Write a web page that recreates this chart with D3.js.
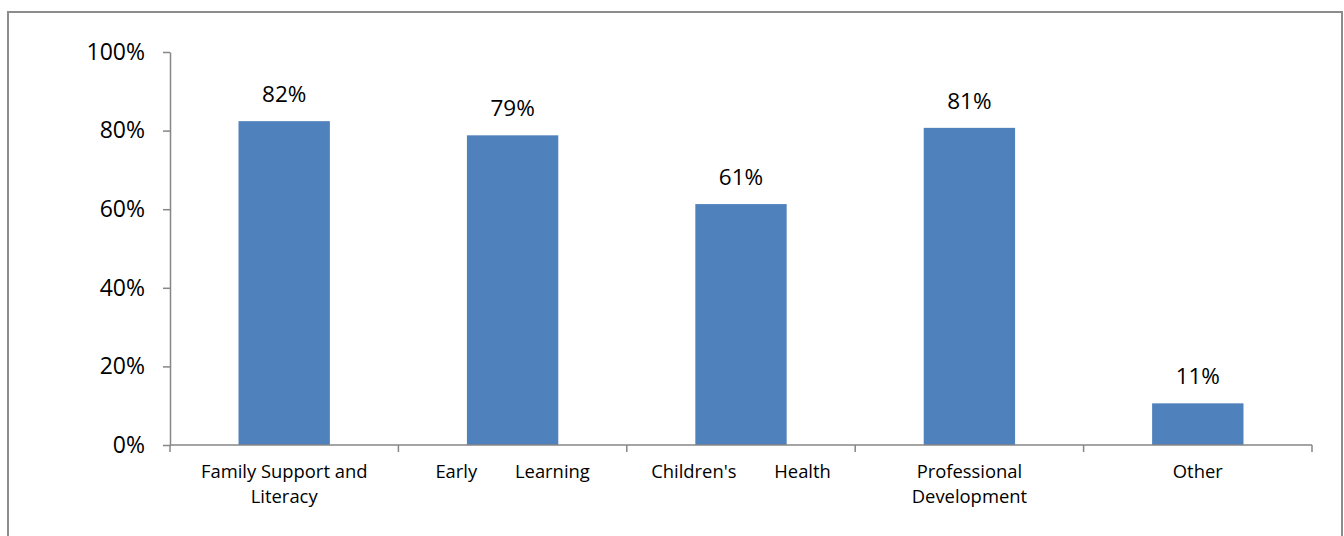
<!DOCTYPE html>
<html>
<head>
<meta charset="utf-8">
<script src="https://cdn.jsdelivr.net/npm/d3@7"></script>
<style>
  body { margin: 0; background: #fff; }
  text { font-family: "Open Sans", sans-serif; fill: #000; }
</style>
</head>
<body>
<div id="chart"></div>
<script>
// data
const categories = ["Family Support and Literacy", "Early Learning", "Children's Health", "Professional Development", "Other"];
const labelLines = [["Family Support and", "Literacy"], ["Early Learning"], ["Children's Health"], ["Professional", "Development"], ["Other"]];
const values = [0.824, 0.788, 0.613, 0.807, 0.106];
const yTicks = [0, 0.2, 0.4, 0.6, 0.8, 1];

const width = 1344, height = 536;
const margin = { top: 52, right: 32, bottom: 91, left: 170 };

const svg = d3.select("#chart")
    .append("svg")
    .attr("width", width)
    .attr("height", height);

// outer frame (runs off the bottom of the picture)
svg.append("rect")
    .attr("x", 8)
    .attr("y", 12)
    .attr("width", 1334)
    .attr("height", 560)
    .attr("fill", "none")
    .attr("stroke", "#8c8c8c")
    .attr("stroke-width", 2);

const x = d3.scaleBand()
    .domain(categories)
    .range([margin.left, width - margin.right])
    .padding(0);

const y = d3.scaleLinear()
    .domain([0, 1])
    .range([height - margin.bottom, margin.top]);

// Y axis
const yAxis = svg.append("g")
    .attr("transform", `translate(${margin.left}, 0)`)
    .call(d3.axisLeft(y).tickValues(yTicks).tickFormat(d3.format(".0%"))
        .tickSize(7).tickSizeOuter(0).tickPadding(18));
yAxis.selectAll("text").attr("font-size", "23px").attr("font-family", "Open Sans");

// Bars
const barW = x.bandwidth() * 0.4;
svg.selectAll("rect.bar")
    .data(categories)
    .enter()
    .append("rect")
    .attr("class", "bar")
    .attr("x", d => x(d) + (x.bandwidth() - barW) / 2)
    .attr("y", (d, i) => y(values[i]))
    .attr("width", barW)
    .attr("height", (d, i) => y(0) - y(values[i]))
    .attr("fill", "#4f81bd");

// X axis: line plus ticks on the category boundaries
const xAxis = svg.append("g");
xAxis.append("line")
    .attr("x1", x.range()[0])
    .attr("x2", x.range()[1])
    .attr("y1", y(0))
    .attr("y2", y(0));
const bounds = categories.map(c => x(c)).concat([x.range()[1]]);
xAxis.selectAll("line.tick")
    .data(bounds)
    .enter()
    .append("line")
    .attr("class", "tick")
    .attr("x1", d => d)
    .attr("x2", d => d)
    .attr("y1", y(0))
    .attr("y2", y(0) + 7);

// Axis colours
svg.selectAll(".domain").attr("stroke", "#868686").attr("stroke-width", 1.5);
svg.selectAll(".tick line").attr("stroke", "#868686").attr("stroke-width", 1.5);
xAxis.selectAll("line").attr("stroke", "#868686").attr("stroke-width", 1.5);

// Category labels
const justified = ["Early Learning", "Children's Health"];
categories.forEach((c, i) => {
    const t = svg.append("text")
        .attr("text-anchor", "middle")
        .attr("font-size", "18.4px")
        .attr("word-spacing", justified.includes(c) ? "33px" : null);
    labelLines[i].forEach((line, j) => {
        t.append("tspan")
            .attr("x", x(c) + x.bandwidth() / 2)
            .attr("y", y(0) + 33 + j * 25)
            .text(line);
    });
});

// Value labels
svg.selectAll("text.value")
    .data(categories)
    .enter()
    .append("text")
    .attr("class", "value")
    .attr("x", d => x(d) + x.bandwidth() / 2)
    .attr("y", (d, i) => y(values[i]) - 19)
    .attr("text-anchor", "middle")
    .attr("font-size", "22.5px")
    .text((d, i) => d3.format(".0%")(values[i]));
</script>
</body>
</html>
